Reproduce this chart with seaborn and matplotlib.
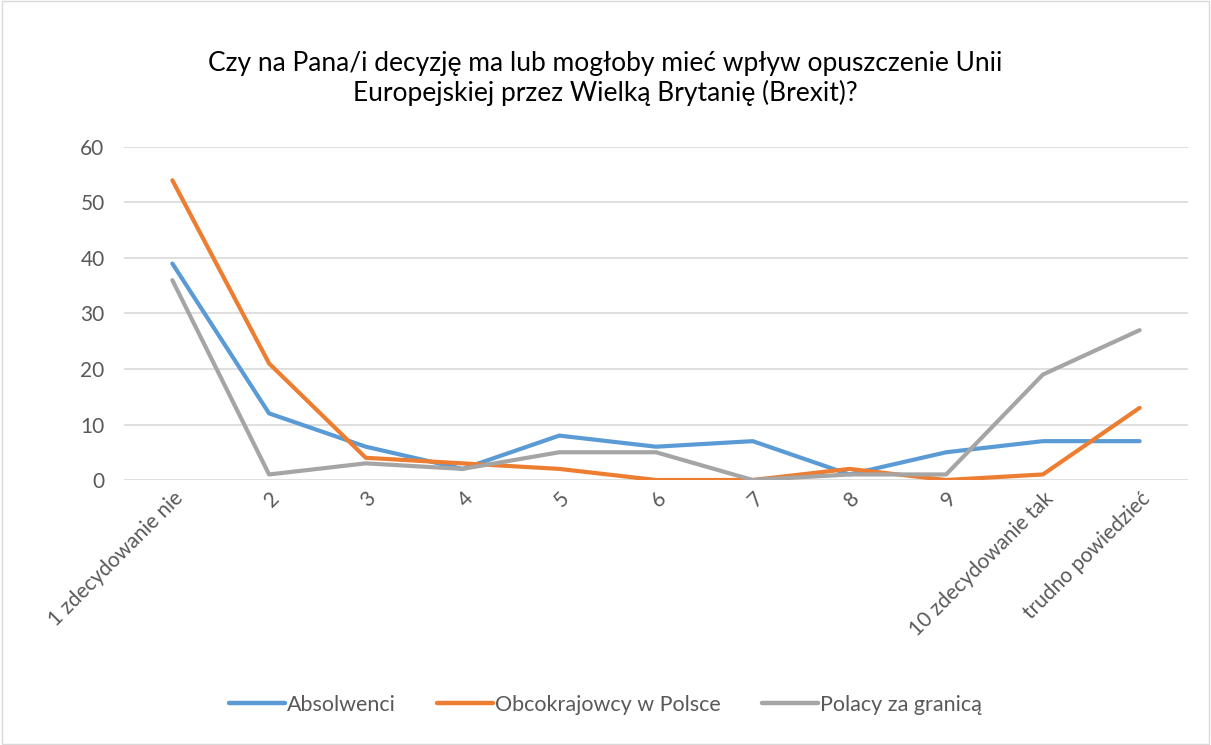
import pandas as pd
import matplotlib.pyplot as plt
import seaborn as sns
from matplotlib.patches import Rectangle


categories = ["1 zdecydowanie nie", "2", "3", "4", "5", "6", "7", "8", "9",
              "10 zdecydowanie tak", "trudno powiedzieć"]

absolwenci = [39, 12, 6, 2, 8, 6, 7, 1, 5, 7, 7]
obcokrajowcy = [54, 21, 4, 3, 2, 0, 0, 2, 0, 1, 13]
polacy = [36, 1, 3, 2, 5, 5, 0, 1, 1, 19, 27]

series_names = ["Absolwenci", "Obcokrajowcy w Polsce", "Polacy za granicą"]
colors = ["#5B9BD5", "#ED7D31", "#A5A5A5"]

df = pd.DataFrame({
    "kategoria": categories * 3,
    "wartosc": absolwenci + obcokrajowcy + polacy,
    "grupa": [series_names[0]] * 11 + [series_names[1]] * 11 + [series_names[2]] * 11,
})

sns.set_style("white")
plt.rcParams["font.family"] = ["Lato", "DejaVu Sans"]

fig = plt.figure(figsize=(12.11, 7.45), dpi=100)
ax = fig.add_axes([0.1024, 0.3557, 0.8786, 0.447])

sns.lineplot(
    data=df,
    x="kategoria",
    y="wartosc",
    hue="grupa",
    palette=colors,
    linewidth=3.0,
    sort=False,
    legend=False,
    ax=ax,
)

ax.set_xlim(-0.5, len(categories) - 0.5)
ax.set_ylim(0, 60)
ax.set_yticks(range(0, 61, 10))
ax.yaxis.grid(True, color="#D9D9D9", linewidth=1.2)
ax.set_axisbelow(True)
for s in ax.spines.values():
    s.set_visible(False)

ax.set_xlabel("")
ax.set_ylabel("")
ax.tick_params(axis="y", labelsize=15, colors="#595959", length=0, pad=14)
ax.tick_params(axis="x", labelsize=15, colors="#595959", length=0, pad=6)
plt.setp(ax.get_xticklabels(), rotation=45, ha="right", rotation_mode="anchor")

fig.text(0.5, 0.895, "Czy na Pana/i decyzję ma lub mogłoby mieć wpływ opuszczenie Unii\n"
         "Europejskiej przez Wielką Brytanię (Brexit)?",
         ha="center", va="center", fontsize=19, color="#000000", linespacing=1.2)

handles = [plt.Line2D([], [], color=c, linewidth=3.2) for c in colors]
fig.legend(handles, series_names, loc="center", bbox_to_anchor=(0.5, 0.054),
           ncol=3, frameon=False, fontsize=15.5, handlelength=2.6,
           handletextpad=0.1, columnspacing=1.9, labelcolor="#595959")

fig.patches.append(Rectangle((0.002, 0.002), 0.996, 0.996, transform=fig.transFigure,
                             fill=False, edgecolor="#D9D9D9", linewidth=1))

fig.savefig("out.png", dpi=100)
